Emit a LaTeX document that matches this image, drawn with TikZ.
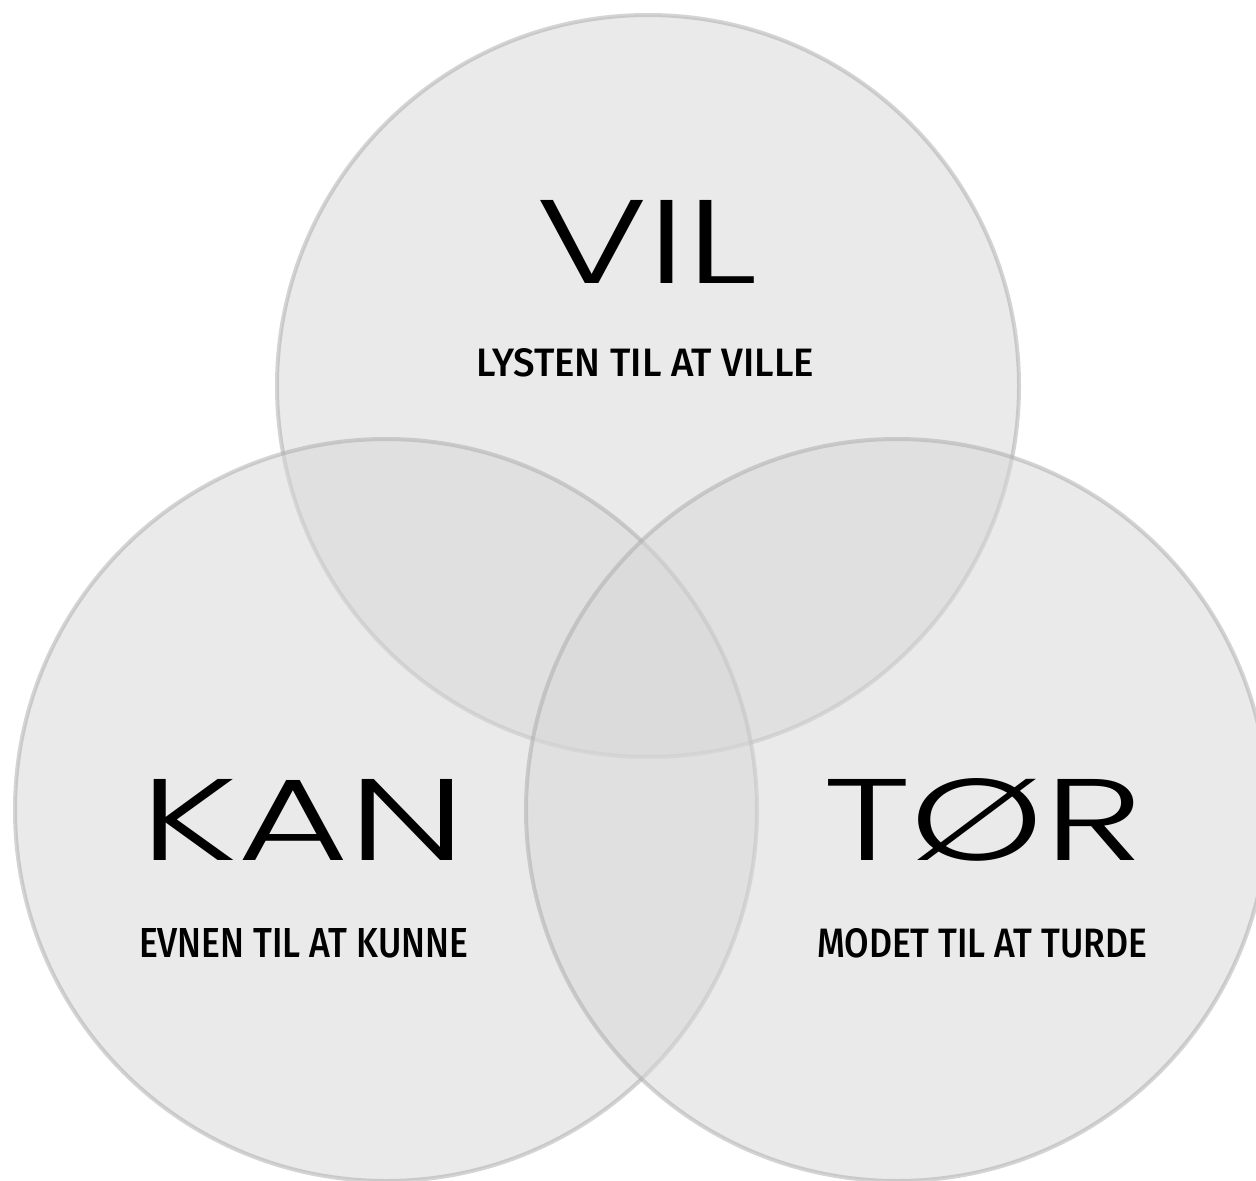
\documentclass[tikz,border=0pt]{standalone}
\usepackage{fontspec}
\usepackage{graphicx}
\setmainfont{Fira Sans}
\newfontfamily\bigfont{Poppins Light}
\newfontfamily\subfont{Fira Sans Medium}
\definecolor{cfill}{RGB}{215,215,215}
\definecolor{cline}{RGB}{170,170,170}
\tikzset{
  venn/.style={circle, minimum size=742pt, inner sep=0pt, fill=cfill, fill opacity=0.52,
    draw=cline, draw opacity=0.5, line width=4pt},
  bigword/.style={anchor=north west, inner sep=0pt, outer sep=0pt, text=black, text opacity=1},
  subword/.style={anchor=north west, inner sep=0pt, outer sep=0pt, text=black, text opacity=1}
}
\begin{document}
\begin{tikzpicture}[x=1pt,y=-1pt]
\fill[white] (0,0) rectangle (1256,1181);
\useasboundingbox (0,0) rectangle (1256,1181);
\node[venn] (vil) at (648,386) {};
\node[venn] (kan) at (386,810) {};
\node[venn] (tor) at (897,810) {};
\node[bigword] (vilt) at (536,200) {\resizebox{221pt}{83pt}{\bigfont VIL}};
\node[subword] (vils) at (476,348) {\resizebox{338pt}{28pt}{\subfont LYSTEN TIL AT VILLE}};
\node[bigword] (kant) at (140,779) {\resizebox{326pt}{81pt}{\bigfont KAN}};
\node[subword] (kans) at (139,928) {\resizebox{329pt}{29pt}{\subfont EVNEN TIL AT KUNNE}};
\node[bigword] (tort) at (823,779) {\resizebox{320pt}{81pt}{\bigfont T\smash{Ø}R}};
\node[subword] (tors) at (817,928) {\resizebox{330pt}{29pt}{\subfont MODET TIL AT TURDE}};
\end{tikzpicture}
\end{document}
